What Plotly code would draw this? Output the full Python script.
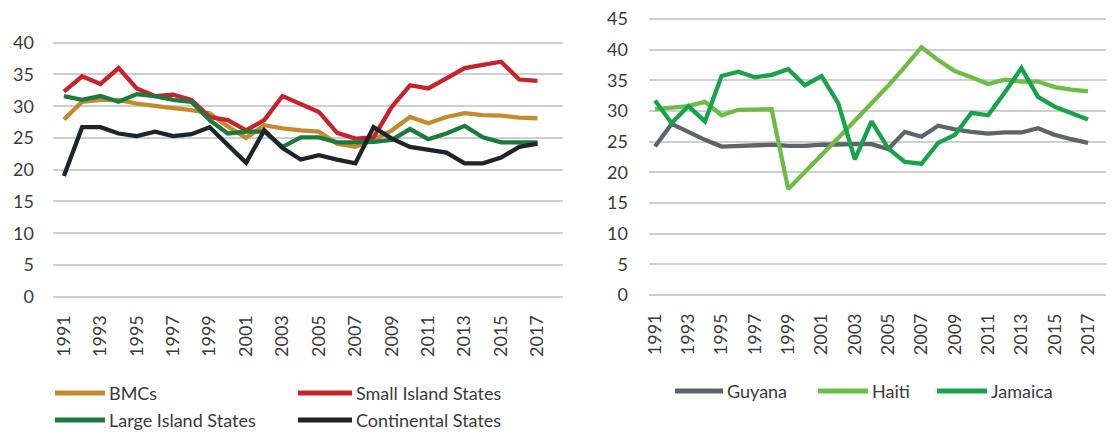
import plotly.graph_objects as go

years = list(range(1991, 2018))
tick_years = list(range(1991, 2018, 2))
tick_labels = [str(y) for y in tick_years]

# Left panel
left_names = ["BMCs", "Small Island States", "Large Island States", "Continental States"]
bmcs = [27.9, 30.7, 31.0, 31.0, 30.4, 30.0, 29.7, 29.4, 28.9, 26.8, 25.0, 27.0, 26.5,
        26.2, 26.0, 24.1, 23.6, 24.7, 26.2, 28.3, 27.3, 28.3, 28.9, 28.6, 28.5, 28.2, 28.1]
small_island = [32.3, 34.7, 33.5, 36.0, 32.8, 31.6, 31.8, 31.0, 28.3, 27.8, 26.2, 27.8, 31.6,
                30.4, 29.1, 25.8, 24.9, 25.1, 29.9, 33.3, 32.8, 34.4, 36.0, 36.5, 37.0, 34.2, 34.0]
large_island = [31.6, 31.0, 31.6, 30.7, 31.9, 31.6, 31.0, 30.7, 27.8, 25.7, 26.0, 26.0, 23.6,
                25.1, 25.1, 24.3, 24.3, 24.4, 24.7, 26.4, 24.8, 25.7, 26.9, 25.1, 24.3, 24.3, 24.3]
continental = [19.0, 26.7, 26.7, 25.7, 25.3, 26.0, 25.3, 25.6, 26.7, 23.9, 21.1, 26.2, 23.4,
               21.6, 22.3, 21.6, 21.0, 26.7, 24.9, 23.6, 23.2, 22.7, 21.0, 21.0, 21.9, 23.6, 24.1]
left_series = [bmcs, small_island, large_island, continental]
left_colors = ["#C68A2E", "#C8232C", "#1C7A3C", "#1E2428"]

# Right panel
right_names = ["Guyana", "Haiti", "Jamaica"]
guyana = [24.2, 27.9, 26.6, 25.3, 24.2, 24.3, 24.5, 24.5, 24.3, 24.3, 24.5, 24.6, 24.6,
          24.6, 23.8, 26.6, 25.8, 27.6, 27.0, 26.6, 26.3, 26.5, 26.5, 27.2, 26.1, 25.4, 24.8]
haiti = [30.3, 30.6, 30.8, 31.5, 29.3, 30.2, 30.3, 30.3, 17.3, 20.0, 22.8, 25.6, 28.4,
         31.2, 34.1, 37.2, 40.4, 38.3, 36.5, 35.5, 34.4, 35.1, 34.8, 34.8, 33.9, 33.5, 33.2]
jamaica = [31.7, 28.0, 30.8, 28.3, 35.7, 36.4, 35.5, 35.9, 36.8, 34.2, 35.7, 31.3, 22.1,
           28.3, 23.9, 21.7, 21.4, 24.8, 26.1, 29.7, 29.3, 33.0, 37.0, 32.3, 30.7, 29.7, 28.6]
right_series = [guyana, haiti, jamaica]
right_colors = ["#5E6468", "#6CBD45", "#17A34A"]

# page has an 8px body margin: figure sits at (8, 8)
OFF = 8
W, H = 1114 - OFF, 432 - OFF
FONT = "Lato"
TXT = "#3A3A3A"

def px(x):
    return (x - OFF) / W

def py(y):
    return 1 - (y - OFF) / H

fig = go.Figure()
for name, vals, col in zip(left_names, left_series, left_colors):
    fig.add_trace(go.Scatter(x=years, y=vals, name=name, mode="lines",
                             line=dict(color=col, width=4.3), xaxis="x", yaxis="y",
                             showlegend=False))
for name, vals, col in zip(right_names, right_series, right_colors):
    fig.add_trace(go.Scatter(x=years, y=vals, name=name, mode="lines",
                             line=dict(color=col, width=4.3), xaxis="x2", yaxis="y2",
                             showlegend=False))

grid = "#CFCFCF"
xcommon = dict(tickmode="array", tickvals=tick_years, ticktext=tick_labels, tickangle=-90,
               showgrid=False, zeroline=False, showline=False, ticks="", automargin=False,
               ticklabeloverflow="allow",
               tickfont=dict(family=FONT, size=18, color=TXT), ticklabelstandoff=12)
ycommon = dict(showgrid=True, gridcolor=grid, gridwidth=1.5, zeroline=False, showline=False,
               ticks="", dtick=5, tick0=0, automargin=False, ticklabeloverflow="allow",
               tickfont=dict(family=FONT, size=18, color=TXT))

# Left: 0 at y=296.7, 40 at y=42.7 (6.35 px/unit); range padded by 0.3
l_bot = 296.7 + 0.3 * 6.35
l_top = 42.7 - 0.3 * 6.35
# Right: 0 at y=295, 45 at y=19 (6.133 px/unit)
r_bot = 295 + 0.3 * 6.133
r_top = 19 - 0.3 * 6.133

fig.update_layout(
    width=W, height=H,
    margin=dict(l=0, r=0, t=0, b=0, autoexpand=False),
    paper_bgcolor="white", plot_bgcolor="white",
    showlegend=False,
    xaxis=dict(domain=[px(53), px(563)], range=[1990.4, 2018.4], anchor="y", **xcommon),
    yaxis=dict(domain=[py(l_bot), py(l_top)], range=[-0.3, 40.3], anchor="x",
               ticklabelstandoff=18, **ycommon),
    xaxis2=dict(domain=[px(649), px(1112)], range=[1990.64, 2018.44], anchor="y2", **xcommon),
    yaxis2=dict(domain=[py(r_bot), py(r_top)], range=[-0.3, 45.3], anchor="x2",
                ticklabelstandoff=20, **ycommon),
)

# Custom legends (line sample + label), built from the series names/colours
legend_items = [
    (left_names[0], left_colors[0], 55, 105, 393),
    (left_names[1], left_colors[1], 298, 352, 393),
    (left_names[2], left_colors[2], 55, 105, 420),
    (left_names[3], left_colors[3], 298, 352, 420),
    (right_names[0], right_colors[0], 675, 723, 391),
    (right_names[1], right_colors[1], 818, 868, 391),
    (right_names[2], right_colors[2], 937, 987, 391),
]
for name, col, x0, x1, yy in legend_items:
    fig.add_shape(type="line", xref="paper", yref="paper",
                  x0=px(x0), x1=px(x1), y0=py(yy), y1=py(yy),
                  line=dict(color=col, width=5))
    fig.add_annotation(xref="paper", yref="paper", x=px(x1 + 2), y=py(yy),
                       text=name, showarrow=False, xanchor="left", yanchor="middle",
                       font=dict(family=FONT, size=18, color=TXT))

fig.write_html("out.html")
